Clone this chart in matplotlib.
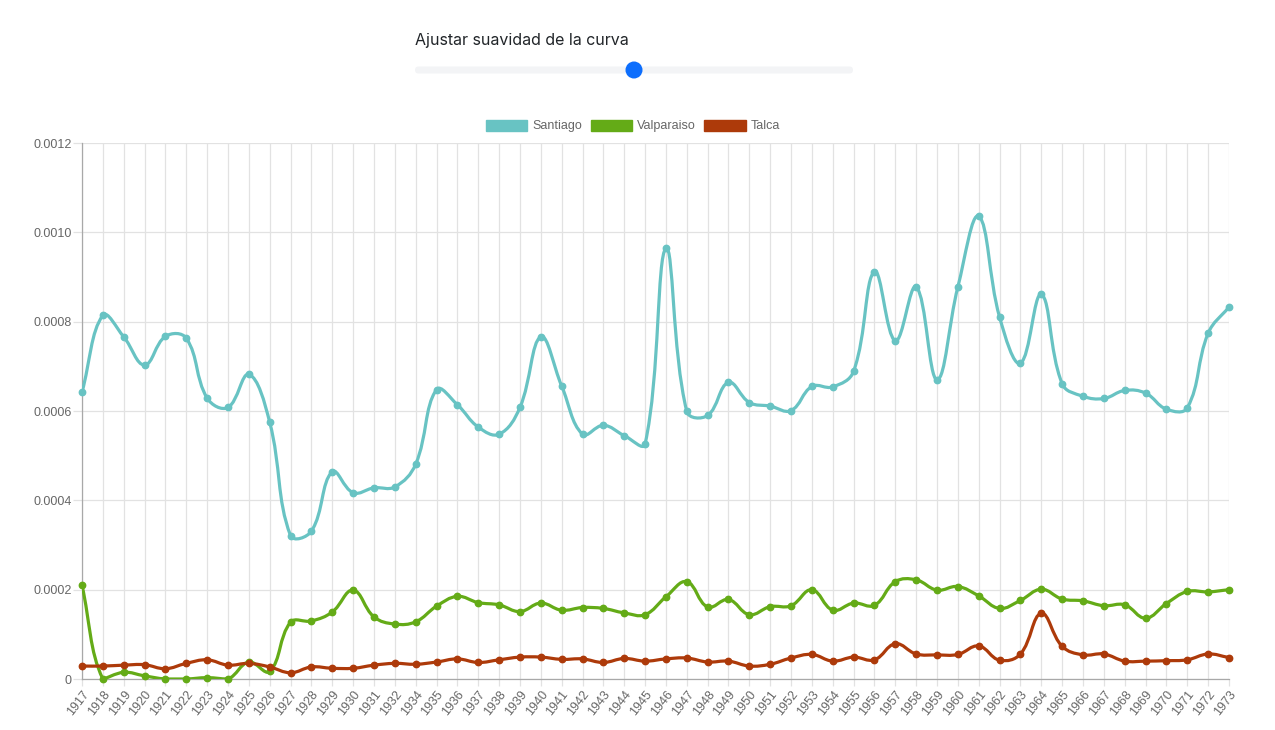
import numpy as np
import matplotlib
matplotlib.use('Agg')
import matplotlib.pyplot as plt
from matplotlib.path import Path
from matplotlib.patches import PathPatch, Patch, FancyBboxPatch, Circle

# Data
years = [1917, 1918, 1919, 1920, 1921, 1922, 1923, 1924, 1925, 1926, 1927, 1928, 1929,
         1930, 1931, 1932, 1934, 1935, 1936, 1937, 1938, 1939, 1940, 1941, 1942, 1943,
         1944, 1945, 1946, 1947, 1948, 1949, 1950, 1951, 1952, 1953, 1954, 1955, 1956,
         1957, 1958, 1959, 1960, 1961, 1962, 1963, 1964, 1965, 1966, 1967, 1968, 1969,
         1970, 1971, 1972, 1973]

santiago = [0.000642, 0.000814, 0.000766, 0.000703, 0.000767, 0.000763, 0.000629, 0.000608,
            0.000682, 0.000575, 0.000321, 0.000331, 0.000464, 0.000417, 0.000428, 0.000430,
            0.000481, 0.000648, 0.000614, 0.000564, 0.000548, 0.000608, 0.000766, 0.000656,
            0.000548, 0.000568, 0.000545, 0.000526, 0.000964, 0.000599, 0.000590, 0.000664,
            0.000619, 0.000611, 0.000601, 0.000655, 0.000654, 0.000689, 0.000912, 0.000757,
            0.000878, 0.000670, 0.000878, 0.001036, 0.000810, 0.000707, 0.000861, 0.000661,
            0.000633, 0.000628, 0.000646, 0.000640, 0.000604, 0.000607, 0.000774, 0.000833]

valparaiso = [0.000210, 0.000000, 0.000015, 0.000007, 0.000000, 0.000000, 0.000003, 0.000000,
              0.000038, 0.000017, 0.000127, 0.000130, 0.000150, 0.000199, 0.000139, 0.000123,
              0.000128, 0.000163, 0.000185, 0.000171, 0.000166, 0.000151, 0.000170, 0.000154,
              0.000160, 0.000158, 0.000148, 0.000144, 0.000184, 0.000218, 0.000161, 0.000178,
              0.000144, 0.000162, 0.000164, 0.000200, 0.000154, 0.000170, 0.000165, 0.000218,
              0.000222, 0.000199, 0.000207, 0.000186, 0.000158, 0.000176, 0.000201, 0.000179,
              0.000175, 0.000164, 0.000166, 0.000136, 0.000169, 0.000196, 0.000195, 0.000200]

talca = [0.000029, 0.000029, 0.000031, 0.000032, 0.000023, 0.000035, 0.000043, 0.000031,
         0.000035, 0.000027, 0.000014, 0.000027, 0.000024, 0.000024, 0.000031, 0.000035,
         0.000033, 0.000038, 0.000045, 0.000037, 0.000043, 0.000049, 0.000049, 0.000044,
         0.000045, 0.000037, 0.000046, 0.000040, 0.000045, 0.000047, 0.000038, 0.000040,
         0.000029, 0.000033, 0.000047, 0.000055, 0.000040, 0.000049, 0.000043, 0.000079,
         0.000056, 0.000054, 0.000055, 0.000074, 0.000042, 0.000056, 0.000147, 0.000073,
         0.000054, 0.000056, 0.000040, 0.000040, 0.000041, 0.000043, 0.000056, 0.000048]

series = [('Santiago', santiago, '#68c3c3'),
          ('Valparaiso', valparaiso, '#64ab17'),
          ('Talca', talca, '#ad3a0a')]

YMAX = 0.0012
W_PX, H_PX = 1147.0, 536.0  # plot area in pixels


def smooth_path(xs, ys, tension=0.4):
    # cubic bezier spline like chart.js, computed in pixel space
    n = len(xs)
    sx = W_PX / (n - 1)
    sy = H_PX / YMAX
    p = np.column_stack([np.asarray(xs, float) * sx, np.asarray(ys, float) * sy])
    prev_cp = np.zeros_like(p)
    next_cp = np.zeros_like(p)
    for i in range(n):
        a = p[i - 1] if i > 0 else p[i]
        b = p[i]
        c = p[i + 1] if i < n - 1 else p[i]
        d01 = np.hypot(*(b - a))
        d12 = np.hypot(*(c - b))
        tot = d01 + d12
        s01 = d01 / tot if tot else 0
        s12 = d12 / tot if tot else 0
        prev_cp[i] = b - tension * s01 * (c - a)
        next_cp[i] = b + tension * s12 * (c - a)
    prev_cp[:, 1] = np.clip(prev_cp[:, 1], 0, H_PX)
    next_cp[:, 1] = np.clip(next_cp[:, 1], 0, H_PX)
    verts = [p[0]]
    codes = [Path.MOVETO]
    for i in range(n - 1):
        verts += [next_cp[i], prev_cp[i + 1], p[i + 1]]
        codes += [Path.CURVE4] * 3
    verts = np.array(verts)
    verts[:, 0] /= sx
    verts[:, 1] /= sy
    return Path(verts, codes)


plt.rcParams['font.family'] = ['Liberation Sans', 'DejaVu Sans']

fig = plt.figure(figsize=(12.75, 7.3), dpi=100)
ax = fig.add_axes([82 / 1275, 51 / 730, 1147 / 1275, 536 / 730])

x = np.arange(len(years))
grid_c = '#e2e2e2'
for name, vals, col in series:
    ax.add_patch(PathPatch(smooth_path(x, vals), facecolor='none', edgecolor=col,
                           lw=2.3, zorder=3, capstyle='round', joinstyle='round'))
    ax.plot(x, vals, 'o', color=col, ms=4.6, zorder=4, clip_on=False)

ax.set_xlim(0, len(years) - 1)
ax.set_ylim(0, YMAX)
ax.set_xticks(x)
ax.set_xticklabels([str(y) for y in years], rotation=52, ha='right',
                   rotation_mode='anchor', fontsize=9, color='#666666')
yt = np.arange(0, 0.00121, 0.0002)
ax.set_yticks(yt)
ax.set_yticklabels(['0'] + ['%.4f' % v for v in yt[1:]], fontsize=9, color='#666666')
ax.grid(True, color=grid_c, lw=0.9, zorder=0)
ax.tick_params(axis='y', length=6.5, color=grid_c, width=0.9, pad=1)
ax.tick_params(axis='x', length=5, color=grid_c, width=0.9, pad=2)
for s in ['top', 'right']:
    ax.spines[s].set_visible(False)
for s in ['left', 'bottom']:
    ax.spines[s].set_color('#a8a8a8')
    ax.spines[s].set_linewidth(0.9)

handles = [Patch(facecolor=col, edgecolor=col, lw=1, label=name) for name, vals, col in series]
leg = fig.legend(handles=handles, loc='center', bbox_to_anchor=(633 / 1275, 1 - 126 / 730),
                 ncol=3, frameon=False, fontsize=9, handlelength=3.3, handleheight=1.0,
                 handletextpad=0.4, columnspacing=0.7)
for t in leg.get_texts():
    t.set_color('#666666')

# slider control on top of the chart
top = fig.add_axes([0, 0, 1, 1], zorder=-1)
top.set_xlim(0, 1275)
top.set_ylim(730, 0)
top.axis('off')
top.text(415, 40, 'Ajustar suavidad de la curva', fontsize=11.5, color='#212529',
         family=['Inter', 'DejaVu Sans'], va='center', ha='left')
top.add_patch(FancyBboxPatch((415, 66.5), 438, 7, boxstyle='round,pad=0,rounding_size=3.5',
                             facecolor='#f3f4f6', edgecolor='none'))
top.add_patch(Circle((634, 70), 8.5, facecolor='#0d6efd', edgecolor='none'))

fig.savefig('out.png', dpi=100)
